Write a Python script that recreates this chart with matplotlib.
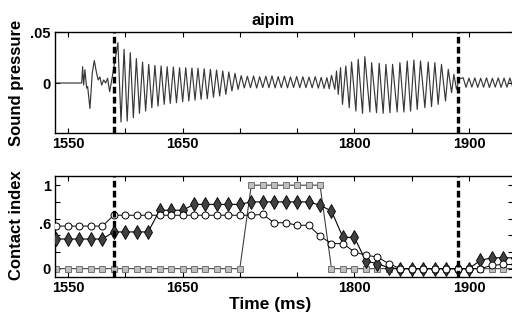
import matplotlib
matplotlib.use("Agg")
import matplotlib.pyplot as plt

plt.rcParams["font.family"] = ["Liberation Sans", "DejaVu Sans"]
plt.rcParams["font.weight"] = "bold"

# sound pressure waveform, extrema (ms, value)
wave_ms = [
    1538, 1562, 1562.8, 1563.7, 1564.8, 1566.3, 1567.2, 1569.2, 1571.2, 1573.0,
    1575.0, 1576.4, 1577.9, 1579.4, 1581.2, 1582.9, 1584.6, 1586.4, 1588.7,
    1593.6, 1596.3, 1599.0, 1601.7, 1604.4, 1607.1, 1609.7, 1612.4, 1615.1, 1617.8,
    1620.5, 1623.2, 1625.9, 1628.6, 1631.3, 1634.0, 1636.6, 1639.3, 1642.0, 1644.7,
    1647.4, 1650.1, 1652.8, 1655.5, 1658.2, 1660.9, 1663.5, 1666.2, 1668.9, 1671.6,
    1674.3, 1677.0, 1679.7, 1682.4, 1685.1, 1687.8, 1690.4, 1693.1, 1695.8, 1698.5,
    1701.2, 1703.9, 1706.6, 1709.3, 1712.0, 1714.7, 1717.3, 1720.0, 1722.7, 1725.4,
    1728.1, 1730.8, 1733.5, 1736.2, 1738.9, 1741.6, 1744.2, 1746.9, 1749.6, 1752.3,
    1755.0, 1757.7, 1760.4, 1763.1, 1765.8, 1768.5, 1771.0, 1773.5, 1776.0,
    1778.0, 1780.0, 1782.9, 1784.4, 1785.9, 1787.9, 1789.6, 1792.5, 1795.5,
    1797.5, 1801.3, 1803.3, 1807.1, 1809.1, 1813.5, 1815.0, 1819.3, 1821.6, 1825.1,
    1827.5, 1831.0, 1833.3, 1837.3, 1839.7, 1843.2, 1846.1, 1849.0, 1851.9, 1854.8,
    1857.7, 1861.5, 1864.4, 1867.3, 1870.2, 1873.1, 1876.0, 1879.5, 1881.9, 1884.8,
    1886.8, 1889.1, 1891.5, 1894.9, 1897.4, 1900.0, 1902.5, 1905.1, 1907.6,
    1910.2, 1912.7, 1915.3, 1917.8, 1920.4, 1922.9, 1925.5, 1928.0, 1930.6,
    1933.1, 1935.7, 1938.2,
]
wave_val = [
    0.0, 0.0, 0.016, -0.002, 0.013, -0.005, -0.0035, -0.025, 0.0095, 0.022,
    0.0095, 0.003, 0.006, -0.002, 0.003, 0.0, 0.0046, -0.0085, 0.006,
    0.0395, -0.0382, 0.033, -0.0373, 0.0297, -0.034, 0.0239, -0.0297, 0.0206, -0.0275,
    0.0183, -0.0242, 0.0173, -0.0226, 0.0167, -0.0209, 0.016, -0.020, 0.0157, -0.0193,
    0.015, -0.0183, 0.015, -0.0176, 0.0147, -0.0167, 0.0144, -0.016, 0.014, -0.0154,
    0.0134, -0.014, 0.0127, -0.0127, 0.0118, -0.0111, 0.0108, -0.0078, 0.0095, -0.0062,
    0.0072, -0.0048, 0.0066, -0.0046, 0.0069, -0.0049, 0.0062, -0.0044, 0.0066, -0.0046,
    0.0070, -0.0048, 0.0063, -0.0045, 0.0067, -0.0047, 0.0060, -0.0044, 0.0064, -0.0046,
    0.0061, -0.0045, 0.0058, -0.0047, 0.0062, -0.0050, 0.0055, -0.0052, 0.0052,
    -0.0056, 0.0075, -0.0062, 0.0118, -0.0111, 0.015, -0.0209, 0.0167, -0.0242,
    0.0206, -0.0275, 0.0232, -0.0297, 0.0258, -0.0284, 0.020, -0.0291, 0.0193, -0.0297,
    0.0183, -0.0291, 0.0183, -0.0284, 0.020, -0.0284, 0.0216, -0.0275, 0.0225, -0.0258,
    0.0216, -0.0242, 0.0206, -0.0232, 0.020, -0.0209, 0.0183, -0.0176, 0.0134, -0.0095,
    0.0085, -0.0062, 0.0040, 0.0052, -0.0042, 0.0048, -0.0040, 0.0050, -0.0043,
    0.0047, -0.0041, 0.0051, -0.0044, 0.0046, -0.0040, 0.0050, -0.0043, 0.0048,
    -0.0041, 0.0049, -0.0042,
]

# contact index samples every 10 ms
ci_ms = [1540 + 10 * i for i in range(41)]
ci_circles = [
    0.51, 0.51, 0.51, 0.51, 0.51,
    0.64, 0.64, 0.64, 0.64, 0.64, 0.64, 0.64, 0.64, 0.64, 0.64, 0.64, 0.64, 0.64, 0.65,
    0.55, 0.55, 0.52, 0.52, 0.39, 0.30, 0.30, 0.20, 0.16, 0.14, 0.06,
    0.0, 0.0, 0.0, 0.0, 0.0, 0.0, 0.0, 0.0, 0.04, 0.05, 0.05,
]
ci_diamonds = [
    0.355, 0.355, 0.355, 0.355, 0.355,
    0.44, 0.44, 0.44, 0.44,
    0.70, 0.70, 0.70,
    0.77, 0.77, 0.77, 0.77, 0.77,
    0.80, 0.80, 0.80, 0.80, 0.80, 0.80,
    0.76, 0.69, 0.375, 0.375, 0.09, 0.06, 0.01,
    0.0, 0.0, 0.0, 0.0, 0.0, 0.0, 0.0, 0.10, 0.13, 0.13, 0.13,
]
ci_squares = [0.0] * 17 + [1.0] * 7 + [0.0] * 17

boundaries = [1590, 1890]
x_ticks = [1550, 1600, 1650, 1700, 1750, 1800, 1850, 1900]
x_labels = ["1550", "", "1650", "", "", "1800", "", "1900"]
xlim = (1538.7, 1938.4)

fig = plt.figure(figsize=(5.12, 3.2), dpi=100)
# right spine sits just past the image edge, as in the original crop
ax1 = fig.add_axes([55 / 512, 1 - 133 / 320, 458 / 512, 101 / 320])
ax2 = fig.add_axes([55 / 512, 1 - 277 / 320, 458 / 512, 101 / 320])

for ax in (ax1, ax2):
    for s in ax.spines.values():
        s.set_linewidth(1.0)
    ax.tick_params(direction="in", length=3.5, width=0.8, top=True, right=True,
                   labelsize=10.5, pad=3)
    ax.set_xlim(*xlim)
    ax.set_xticks(x_ticks, x_labels)
    for b in boundaries:
        ax.axvline(b, color="black", lw=2.4, linestyle=(0, (2, 1)), zorder=5)

# top: waveform
ax1.plot(wave_ms, wave_val, color="0.22", lw=0.85)
ax1.set_ylim(-0.049, 0.05)
ax1.set_yticks([0, 0.05], ["0", ".05"])

# bottom: contact index
ax2.plot(ci_ms, ci_squares, color="0.25", lw=0.8, marker="s", markersize=4,
         markerfacecolor="0.75", markeredgecolor="0.45", markeredgewidth=0.7,
         zorder=2)
ax2.plot(ci_ms, ci_diamonds, color="black", lw=0.8, marker="d", markersize=7,
         markerfacecolor="0.25", markeredgecolor="black", markeredgewidth=0.6,
         zorder=3)
ax2.plot(ci_ms, ci_circles, color="black", lw=0.7, marker="o", markersize=5,
         markerfacecolor="white", markeredgecolor="black", markeredgewidth=0.7,
         zorder=4)
ax2.set_ylim(-0.1, 1.11)
ax2.set_yticks([0, 0.2, 0.4, 0.6, 0.8, 1.0], ["0", "", "", "", "", "1"])
ax2.text(-0.008, 0.52, ".6", transform=ax2.get_yaxis_transform(),
         ha="right", va="center", fontsize=10.5, fontweight="bold")

fig.text(273 / 512, 1 - 20 / 320, "aipim", ha="center", va="center",
         fontsize=12, fontweight="bold")
fig.text(17 / 512, 1 - 83 / 320, "Sound pressure", rotation=90,
         ha="center", va="center", fontsize=12, fontweight="bold")
fig.text(17 / 512, 1 - 225 / 320, "Contact index", rotation=90,
         ha="center", va="center", fontsize=12, fontweight="bold")
fig.text(270 / 512, 1 - 304 / 320, "Time (ms)", ha="center", va="center",
         fontsize=12.5, fontweight="bold")

fig.savefig("out.png", dpi=100)
